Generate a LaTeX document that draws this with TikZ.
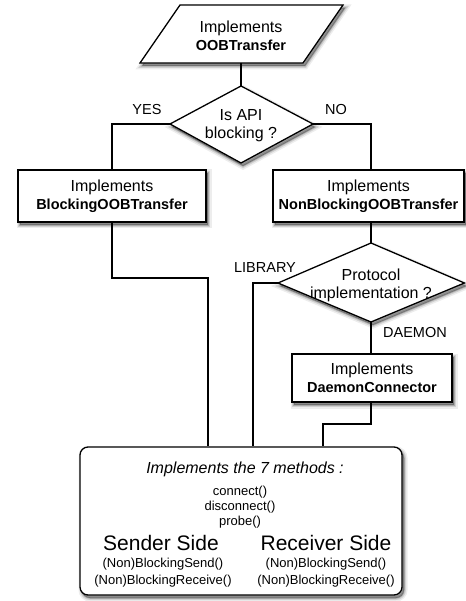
\documentclass[tikz,border=0pt]{standalone}
\usepackage{fontspec}
\setmainfont{Liberation Sans}
\usetikzlibrary{calc}
\tikzset{
  softshadow/.style={
    preaction={draw=black, fill=black, line width=7pt, opacity=0.07, transform canvas={shift={(2pt,-3pt)}}},
    preaction={draw=black, fill=black, line width=4pt, opacity=0.12, transform canvas={shift={(2pt,-3pt)}}},
    preaction={draw=black, fill=black, line width=1.5pt, opacity=0.18, transform canvas={shift={(2pt,-3pt)}}}},
  shapeline/.style={draw=black, line width=1.3pt, fill=white, line join=miter, softshadow},
  box/.style={shapeline, inner sep=0pt, align=center, font=\fontsize{16}{18}\selectfont},
  txt/.style={inner sep=0pt, align=center, font=\fontsize{16}{18}\selectfont},
  lbl/.style={inner sep=0pt, font=\fontsize{14.5}{17}\selectfont},
  conn/.style={draw=black, line width=1.3pt},
  small/.style={inner sep=0pt, anchor=base, font=\fontsize{13}{15}\selectfont},
  side/.style={inner sep=0pt, anchor=base, font=\fontsize{21}{24}\selectfont},
}
\newcommand{\bd}[1]{{\fontsize{14.5}{18}\selectfont\bfseries #1}}
\begin{document}
\begin{tikzpicture}[x=1pt,y=-1pt]
\useasboundingbox (0,0) rectangle (465,601);

% parallelogram
\draw[shapeline] (180,5) -- (343,5) -- (303,63) -- (140,63) -- cycle;
\node[txt] (oob) at (241,36) {Implements\\\bd{OOBTransfer}};
\coordinate (oobb) at (241,63);

% diamond 1
\coordinate (d1t) at (241,86);
\coordinate (d1l) at (170,124);
\coordinate (d1r) at (313,124);
\coordinate (d1b) at (241,163);
\draw[shapeline] (d1t) -- (d1r) -- (d1b) -- (d1l) -- cycle;
\node[txt] (d1) at (241,126) {Is API\\blocking ?};

% boxes
\node[box, minimum width=188pt, minimum height=52pt] (blk) at (112,196) {Implements\\\bd{BlockingOOBTransfer}};
\node[box, minimum width=191pt, minimum height=52pt] (nblk) at (368.5,196) {Implements\\\bd{NonBlockingOOBTransfer}};

% diamond 2
\coordinate (d2t) at (371,243);
\coordinate (d2l) at (278,283);
\coordinate (d2r) at (464.4,283);
\coordinate (d2b) at (371,322);
\draw[shapeline] (d2t) -- (d2r) -- (d2b) -- (d2l) -- cycle;
\node[txt] (d2) at (371,285) {Protocol\\implementation ?};

% daemon box
\node[box, minimum width=160pt, minimum height=48pt] (dmn) at (372,378) {Implements\\\bd{DaemonConnector}};

% bottom box
\node[shapeline, rounded corners=8pt, minimum width=322pt, minimum height=148pt, inner sep=0pt] (meth) at (241,521) {};
\node[inner sep=0pt, anchor=base, font=\fontsize{16}{18}\selectfont\itshape] (mt) at (245,473) {Implements the 7 methods :};
\node[small] (m1) at (240,495) {connect()};
\node[small] (m2) at (240,510) {disconnect()};
\node[small] (m3) at (240,525) {probe()};
\node[side] (ss) at (161,550) {Sender Side};
\node[side] (rs) at (326,550) {Receiver Side};
\node[small] (s1) at (163,567) {(Non)BlockingSend()};
\node[small] (s2) at (163,584) {(Non)BlockingReceive()};
\node[small] (r1) at (326,567) {(Non)BlockingSend()};
\node[small] (r2) at (326,584) {(Non)BlockingReceive()};

% labels
\node[lbl] (yes) at (147,110) {YES};
\node[lbl] (no) at (336,110) {NO};
\node[lbl] (lib) at (265,268) {LIBRARY};
\node[lbl] (dae) at (415,333) {DAEMON};

% connectors
\coordinate (c1) at (113,278);
\coordinate (c2) at (371,424);
\draw[conn] (oobb) -- (d1t);
\draw[conn] (d1l) -| (blk.north);
\draw[conn] (d1r) -| (nblk.north -| 371,0);
\draw[conn] (blk.south) -- (blk.south |- c1) -| (meth.north -| 208,0);
\draw[conn] (nblk.south -| d2t) -- (d2t);
\draw[conn] (d2l) -| (meth.north -| 253,0);
\draw[conn] (d2b) -- (dmn.north -| d2b);
\draw[conn] (dmn.south -| c2) -- (c2) -| (meth.north -| 323,0);
\end{tikzpicture}
\end{document}
